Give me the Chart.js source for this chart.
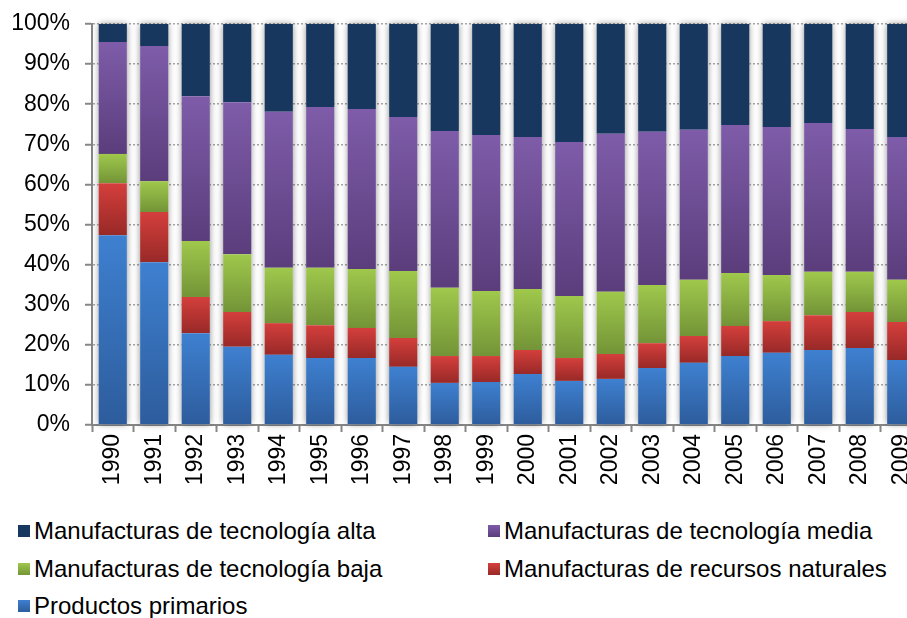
<!DOCTYPE html>
<html>
<head>
<meta charset="utf-8">
<script src="https://cdn.jsdelivr.net/npm/chart.js@4.4.1/dist/chart.umd.min.js"></script>
<style>
  html, body { margin: 0; padding: 0; background: #fff; overflow: hidden; }
  body { width: 907px; height: 618px; position: relative; }
  #chart { position: absolute; left: 0; top: 0; }
  .legend { position: absolute; font-family: "Liberation Sans", Arial, sans-serif; font-size: 24px; color: #000; white-space: nowrap; }
  .legend .sw { position: absolute; width: 12px; height: 12px; left: 0; top: 50%; margin-top: -6px; }
  .legend .tx { position: absolute; left: 16px; top: 50%; transform: translateY(-50%); }
</style>
</head>
<body>
<canvas id="chart" width="922" height="510"></canvas>
<div id="legend"></div>
<script>
  "use strict";

  // ----- Data (shares in %) -----
  const YEARS = ["1990", "1991", "1992", "1993", "1994", "1995", "1996", "1997", "1998", "1999",
    "2000", "2001", "2002", "2003", "2004", "2005", "2006", "2007", "2008", "2009"];

  const PRIMARIOS = [47.3, 40.6, 22.9, 19.5, 17.5, 16.7, 16.7, 14.5, 10.5, 10.7,
    12.7, 11.0, 11.5, 14.2, 15.5, 17.2, 18.0, 18.7, 19.2, 16.2];
  const RECURSOS = [13.0, 12.5, 9.0, 8.7, 7.9, 8.2, 7.5, 7.2, 6.7, 6.5,
    6.0, 5.7, 6.2, 6.2, 6.7, 7.5, 7.9, 8.7, 9.0, 9.5];
  const TEC_BAJA = [7.3, 7.7, 14.0, 14.4, 13.8, 14.3, 14.7, 16.7, 17.0, 16.2,
    15.2, 15.5, 15.5, 14.5, 14.0, 13.2, 11.5, 10.8, 10.0, 10.5];
  const TEC_MEDIA = [27.9, 33.7, 36.1, 37.9, 38.9, 40.1, 39.9, 38.4, 39.1, 38.9,
    37.9, 38.4, 39.4, 38.2, 37.4, 36.9, 36.9, 37.1, 35.6, 35.6];
  const TEC_ALTA = [4.5, 5.5, 18.0, 19.5, 21.9, 20.7, 21.2, 23.2, 26.7, 27.7,
    28.2, 29.4, 27.4, 26.9, 26.4, 25.2, 25.7, 24.7, 26.2, 28.2];

  const Y_TICKS = [0, 10, 20, 30, 40, 50, 60, 70, 80, 90, 100];

  // Series in stacking order (bottom first): label, values, gradient top/bottom colour
  const SERIES = [
    { label: "Productos primarios", data: PRIMARIOS, top: "#3E80D0", bottom: "#2D5C9C" },
    { label: "Manufacturas de recursos naturales", data: RECURSOS, top: "#D43F3C", bottom: "#982927" },
    { label: "Manufacturas de tecnología baja", data: TEC_BAJA, top: "#9FC84C", bottom: "#739437" },
    { label: "Manufacturas de tecnología media", data: TEC_MEDIA, top: "#7E5CA9", bottom: "#5B3D7C" },
    { label: "Manufacturas de tecnología alta", data: TEC_ALTA, top: "#17375E", bottom: "#17375E" },
  ];

  // Legend grid (reference order), positions in px
  const LEGEND_ORDER = [4, 3, 2, 1, 0];
  const LEGEND_POS = [
    { x: 18, y: 531 }, { x: 488, y: 531 },
    { x: 18, y: 569 }, { x: 488, y: 569 },
    { x: 18, y: 606 },
  ];

  const AXIS_COLOR = "#868686";
  const FONT = "'Liberation Sans', Arial, sans-serif";

  // vertical gradient per stacked segment
  function segmentFill(s) {
    return function (ctx) {
      const chart = ctx.chart;
      const y = chart.scales.y;
      if (ctx.type !== "data" || !chart.chartArea || !y) return s.bottom;
      let base = 0;
      for (let k = 0; k < ctx.datasetIndex; k++) base += chart.data.datasets[k].data[ctx.dataIndex];
      const v = chart.data.datasets[ctx.datasetIndex].data[ctx.dataIndex];
      const y0 = y.getPixelForValue(base + v);
      const y1 = y.getPixelForValue(base);
      if (!isFinite(y0) || !isFinite(y1) || y0 === y1) return s.bottom;
      const g = chart.ctx.createLinearGradient(0, y0, 0, y1);
      g.addColorStop(0, s.top);
      g.addColorStop(1, s.bottom);
      return g;
    };
  }

  // soft grey shadow behind each full bar
  const barShadow = {
    id: "barShadow",
    beforeDatasetsDraw(chart) {
      const n = chart.data.datasets.length;
      const bottomMeta = chart.getDatasetMeta(0);
      const topMeta = chart.getDatasetMeta(n - 1);
      const c = chart.ctx;
      c.save();
      c.shadowColor = "rgba(0,0,0,0.5)";
      c.shadowBlur = 7;
      c.fillStyle = "#ffffff";
      bottomMeta.data.forEach((bar, i) => {
        const top = topMeta.data[i].y;
        const w = bar.width;
        c.fillRect(bar.x - w / 2, top, w, bar.base - top);
      });
      c.restore();
    },
  };

  new Chart(document.getElementById("chart"), {
    type: "bar",
    data: {
      labels: YEARS,
      datasets: SERIES.map((s) => ({
        label: s.label,
        data: s.data,
        backgroundColor: segmentFill(s),
        borderWidth: 0,
        barPercentage: 0.68,
        categoryPercentage: 1,
      })),
    },
    options: {
      responsive: false,
      animation: false,
      events: [],
      layout: { padding: { top: 24, right: 0, left: 0, bottom: 0 } },
      plugins: { legend: { display: false }, tooltip: { enabled: false } },
      scales: {
        x: {
          stacked: true,
          grid: { drawOnChartArea: false, drawTicks: true, tickLength: 7, tickColor: AXIS_COLOR, tickWidth: 2 },
          border: { color: AXIS_COLOR, width: 2 },
          ticks: {
            color: "#000",
            font: { family: FONT, size: 23 },
            minRotation: 90,
            maxRotation: 90,
            autoSkip: false,
            padding: 2,
          },
          afterFit: (scale) => {
            scale.height = 85;
            scale.paddingLeft = 0;
            scale.paddingRight = 0;
          },
        },
        y: {
          stacked: true,
          min: 0,
          max: 100,
          afterBuildTicks: (scale) => { scale.ticks = Y_TICKS.map((v) => ({ value: v })); },
          grid: {
            color: "#A6A6A6",
            lineWidth: 1.5,
            drawTicks: true,
            tickLength: 7,
            tickColor: AXIS_COLOR,
            tickWidth: 2,
            tickBorderDash: [],
          },
          border: { color: AXIS_COLOR, width: 2, dash: [2, 2] },
          ticks: {
            color: "#000",
            font: { family: FONT, size: 23 },
            padding: 15,
            callback: (v) => v + "%",
          },
          afterFit: (scale) => {
            scale.width = 92;
            scale.paddingTop = 0;
            scale.paddingBottom = 0;
          },
        },
      },
    },
    plugins: [barShadow],
  });

  // ----- HTML legend in two columns -----
  const legendEl = document.getElementById("legend");
  LEGEND_ORDER.forEach((si, k) => {
    const s = SERIES[si];
    const p = LEGEND_POS[k];
    const item = document.createElement("div");
    item.className = "legend";
    item.style.left = p.x + "px";
    item.style.top = (p.y - 15) + "px";
    item.style.height = "30px";
    item.innerHTML = '<span class="sw" style="background:linear-gradient(' + s.top + ',' + s.bottom + ')"></span>' +
      '<span class="tx">' + s.label + "</span>";
    legendEl.appendChild(item);
  });
</script>
</body>
</html>
